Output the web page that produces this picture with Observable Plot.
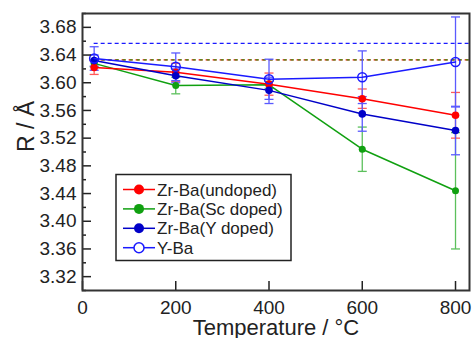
<!DOCTYPE html>
<html>
<head>
<meta charset="utf-8">
<script src="https://cdn.jsdelivr.net/npm/d3@7"></script>
<script src="https://cdn.jsdelivr.net/npm/@observablehq/plot@0.6"></script>
<style>
  html, body { margin: 0; padding: 0; background: #fff; }
  #wrap { position: relative; width: 472px; height: 338px; font-family: "Liberation Sans", Arial, sans-serif; }
  #legend { position: absolute; left: 0; top: 0; pointer-events: none; }
</style>
</head>
<body>
<div id="wrap"></div>
<script>
// ---- data ----
const temps = [25, 200, 400, 600, 800];
const seriesNames = ["Zr-Ba(undoped)", "Zr-Ba(Sc doped)", "Zr-Ba(Y doped)", "Y-Ba"];
const undoped    = [3.622, 3.615, 3.598, 3.577, 3.553];
const undopedErr = [0.010, 0.013, 0.016, 0.014, 0.033];
const scDoped    = [3.628, 3.596, 3.597, 3.504, 3.444];
const scDopedErr = [0.005, 0.012, 0.005, 0.032, 0.084];
const yDoped     = [3.632, 3.610, 3.589, 3.555, 3.531];
const yDopedErr  = [0.008, 0.010, 0.019, 0.025, 0.035];
const yBa        = [3.635, 3.623, 3.605, 3.608, 3.630];
const yBaErr     = [0.017, 0.020, 0.029, 0.038, 0.065];
const refBlue = 3.657;      // dashed reference (blue)
const refRedGreen = 3.633;  // dashed reference (red/green)
const refStart = 25, refEnd = 830;
const xTicks = [0, 200, 400, 600, 800];
const yTicks = [3.32, 3.36, 3.40, 3.44, 3.48, 3.52, 3.56, 3.60, 3.64, 3.68];
const yMinor = [3.30, 3.34, 3.38, 3.42, 3.46, 3.50, 3.54, 3.58, 3.62, 3.66, 3.70];

const colors = ["#ff0000", "#10a010", "#0000c8", "#1a1aff"];
const errColors = ["#ff5a5a", "#5cc05c", "#5a5aff", "#5a5aff"];
const vals = [undoped, scDoped, yDoped, yBa];
const errs = [undopedErr, scDopedErr, yDopedErr, yBaErr];

const rows = [];
vals.forEach((v, s) => v.forEach((y, i) => rows.push({s, name: seriesNames[s], T: temps[i], R: y, lo: y - errs[s][i], hi: y + errs[s][i]})));
const bySeries = s => rows.filter(d => d.s === s);

const W = 472, H = 338, mL = 82, mR = 3, mT = 13, mB = 48;
const pw = W - mL - mR, ph = H - mT - mB;
const font = "Liberation Sans, Arial, sans-serif";

const cap = { draw(ctx) { ctx.moveTo(-4.5, 0); ctx.lineTo(4.5, 0); } };

const order = [1, 0, 2, 3];
const marks = [
  Plot.ruleY([refRedGreen], {x1: refStart, x2: refEnd, stroke: colors[0], strokeWidth: 1.3, strokeDasharray: "4,3"}),
  Plot.ruleY([refRedGreen], {x1: refStart, x2: refEnd, stroke: "#2f9a10", strokeWidth: 1.3, strokeDasharray: "3,4", strokeDashoffset: -1}),
  Plot.ruleY([refBlue], {x1: refStart, x2: refEnd, stroke: colors[3], strokeWidth: 1.3, strokeDasharray: "4,3"}),
];
for (const s of order) {
  const d = bySeries(s);
  marks.push(
    Plot.link(d, {x1: "T", x2: "T", y1: "lo", y2: "hi", stroke: errColors[s], strokeWidth: 1.3}),
    Plot.dot(d, {x: "T", y: "lo", symbol: cap, r: 4, stroke: errColors[s], fill: "none", strokeWidth: 1.3}),
    Plot.dot(d, {x: "T", y: "hi", symbol: cap, r: 4, stroke: errColors[s], fill: "none", strokeWidth: 1.3}),
  );
}
for (const s of order) {
  const d = bySeries(s);
  marks.push(Plot.line(d, {x: "T", y: "R", stroke: colors[s], strokeWidth: 1.5}));
  if (s === 3) marks.push(Plot.dot(d, {x: "T", y: "R", r: 4.5, stroke: colors[s], fill: "none", strokeWidth: 1.5}));
  else marks.push(Plot.dot(d, {x: "T", y: "R", r: s === 1 ? 3.5 : 3.8, fill: colors[s], stroke: "none"}));
}
marks.push(
  Plot.tickY(yTicks, {y: d => d, insetRight: pw - 9, stroke: "#222", strokeWidth: 1.5}),
  Plot.tickY(yMinor, {y: d => d, insetRight: pw - 4, stroke: "#222", strokeWidth: 1.5}),
  Plot.tickX(xTicks, {x: d => d, insetTop: ph - 9, stroke: "#222", strokeWidth: 1.5}),
  Plot.axisY({ticks: yTicks, tickSize: 0, tickPadding: 6, tickFormat: d => d.toFixed(2), fontSize: 19, label: null, fill: "#222"}),
  Plot.axisX({ticks: xTicks, tickSize: 0, tickPadding: 10, tickFormat: d => String(d), fontSize: 19, label: null, fill: "#222"}),
  Plot.text(["Temperature / °C"], {frameAnchor: "bottom", dy: 37, fontSize: 22, fill: "#222", lineAnchor: "middle"}),
  Plot.text(["R / Å"], {frameAnchor: "left", dx: -56, rotate: -90, fontSize: 23, fill: "#222", lineAnchor: "middle"}),
  Plot.frame({stroke: "#333", strokeWidth: 2})
);

const chart = Plot.plot({
  width: W, height: H,
  marginLeft: mL, marginRight: mR, marginTop: mT, marginBottom: mB,
  x: {domain: [0, 830]},
  y: {domain: [3.30, 3.70]},
  style: {fontFamily: font, background: "#fff", overflow: "visible"},
  marks
});
const wrap = document.getElementById("wrap");
wrap.appendChild(chart);

// ---- legend (overlay) ----
const ns = "http://www.w3.org/2000/svg";
const lg = document.createElementNS(ns, "svg");
lg.setAttribute("id", "legend");
lg.setAttribute("width", W); lg.setAttribute("height", H);
const box = {x: 116, y: 174.5, w: 175, h: 86};
let html = `<rect x="${box.x}" y="${box.y}" width="${box.w}" height="${box.h}" fill="#fff" stroke="#222" stroke-width="1.5"/>`;
seriesNames.forEach((name, s) => {
  const cy = 189.5 + s * 19.4;
  html += `<line x1="123" x2="155" y1="${cy}" y2="${cy}" stroke="${colors[s]}" stroke-width="1.5"/>`;
  if (s === 3) html += `<circle cx="139" cy="${cy}" r="5" fill="#fff" stroke="${colors[s]}" stroke-width="1.5"/>`;
  else html += `<circle cx="139" cy="${cy}" r="5" fill="${colors[s]}"/>`;
  html += `<text x="157" y="${cy}" dy="0.36em" font-size="17" font-family="${font}" fill="#222">${name}</text>`;
});
lg.innerHTML = html;
wrap.appendChild(lg);
</script>
</body>
</html>
